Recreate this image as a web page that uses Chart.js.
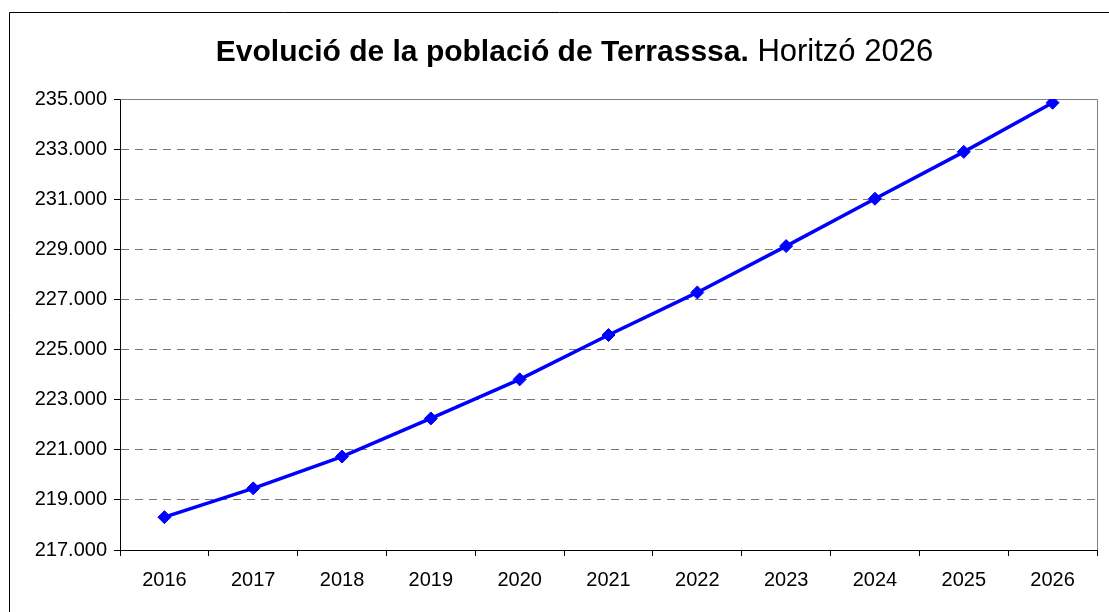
<!DOCTYPE html>
<html>
<head>
<meta charset="utf-8">
<script src="https://cdn.jsdelivr.net/npm/chart.js@4"></script>
<style>
  html, body { margin: 0; padding: 0; background: #fff; }
  #wrap { width: 1109px; height: 612px; position: relative; }
</style>
</head>
<body>
<div id="wrap"><canvas id="chart_Pob"></canvas></div>
<script>
var years = ["2016", "2017", "2018", "2019", "2020", "2021", "2022", "2023", "2024", "2025", "2026"];
var poblacio = [218310, 219460, 220730, 222250, 223810, 225580, 227280, 229130, 231020, 232890, 234850];
var titolBold = "Evolució de la població de Terrasssa.";
var titolNormal = " Horitzó 2026";
var yMin = 217000, yMax = 235000, yStep = 2000;

var fontFam = "'Liberation Sans', Arial, sans-serif";

function puntsMil(v) {
  return String(v).replace(/\B(?=(\d{3})+(?!\d))/g, ".");
}

// marc exterior, vores del grafic i titol
var extras = {
  id: "extras",
  beforeDraw: function (chart) {
    var ctx = chart.ctx;
    ctx.save();
    ctx.fillStyle = "#fff";
    ctx.fillRect(0, 0, chart.width, chart.height);
    ctx.strokeStyle = "#000";
    ctx.lineWidth = 1;
    ctx.beginPath();
    ctx.moveTo(9.5, chart.height);
    ctx.lineTo(9.5, 12.5);
    ctx.lineTo(chart.width, 12.5);
    ctx.stroke();

    ctx.fillStyle = "#000";
    ctx.textBaseline = "alphabetic";
    ctx.font = "bold 30px " + fontFam;
    var w1 = ctx.measureText(titolBold).width;
    ctx.font = "31px " + fontFam;
    var w2 = ctx.measureText(titolNormal).width;
    var x0 = 574.5 - (w1 + w2) / 2;
    ctx.font = "bold 30px " + fontFam;
    ctx.fillText(titolBold, x0, 61);
    ctx.font = "31px " + fontFam;
    ctx.fillText(titolNormal, x0 + w1, 61);
    ctx.restore();
  },
  beforeDatasetsDraw: function (chart) {
    var a = chart.chartArea;
    var ctx = chart.ctx;
    ctx.save();
    ctx.strokeStyle = "#808080";
    ctx.lineWidth = 1;
    ctx.beginPath();
    ctx.moveTo(Math.round(a.left) + 0.5, Math.round(a.top) + 0.5);
    ctx.lineTo(Math.round(a.right) + 0.5, Math.round(a.top) + 0.5);
    ctx.lineTo(Math.round(a.right) + 0.5, Math.round(a.bottom));
    ctx.stroke();
    ctx.restore();
  }
};

new Chart(document.getElementById("chart_Pob"), {
  type: "line",
  data: {
    labels: years,
    datasets: [{
      label: "Població",
      data: poblacio,
      borderColor: "#0000ff",
      backgroundColor: "#0000ff",
      borderWidth: 3.5,
      pointStyle: "rectRot",
      pointRadius: 6.5,
      pointBorderWidth: 1,
      tension: 0,
      fill: false
    }]
  },
  options: {
    responsive: true,
    maintainAspectRatio: false,
    animation: false,
    devicePixelRatio: 1,
    layout: { padding: { left: 0, top: 99, right: 12, bottom: 0 } },
    plugins: {
      legend: { display: false },
      title: { display: false },
      tooltip: { enabled: false }
    },
    scales: {
      x: {
        type: "category",
        offset: true,
        grid: {
          offset: true,
          drawOnChartArea: false,
          drawTicks: true,
          tickLength: 6,
          tickColor: "#000"
        },
        border: { color: "#000", width: 1 },
        ticks: {
          color: "#000",
          font: { family: fontFam, size: 20 },
          padding: 12,
          maxRotation: 0,
          autoSkip: false
        },
        afterFit: function (s) { s.height = 62; }
      },
      y: {
        min: yMin,
        max: yMax,
        grid: {
          color: "#777777",
          tickColor: "#000",
          tickLength: 6,
          tickBorderDash: []
        },
        border: { color: "#000", width: 1, dash: [8, 6] },
        ticks: {
          stepSize: yStep,
          color: "#000",
          font: { family: fontFam, size: 20 },
          padding: 7,
          callback: function (v) { return puntsMil(v); }
        },
        afterFit: function (s) { s.width = 120; }
      }
    }
  },
  plugins: [extras]
});
</script>
</body>
</html>
